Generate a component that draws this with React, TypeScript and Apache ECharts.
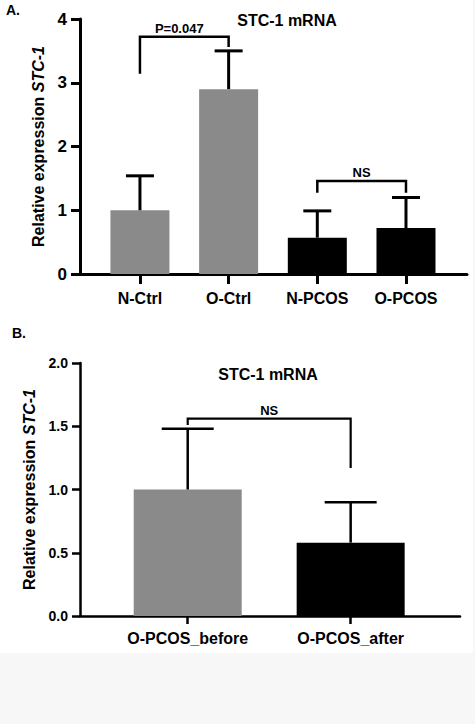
import React, { useEffect, useRef } from "react";
import * as echarts from "echarts";

const FONT = "'Liberation Sans', Arial, sans-serif";

// Panel A
const categoriesA = ["N-Ctrl", "O-Ctrl", "N-PCOS", "O-PCOS"];
const meansA = [1.0, 2.9, 0.57, 0.72];
const upperA = [1.54, 3.5, 0.99, 1.2];
const groupA = ["ctrl", "ctrl", "pcos", "pcos"];
const yTicksA = [0, 1, 2, 3, 4];
const bracketsA = [
  { from: 0, to: 1, top: 3.72, leftEnd: 3.14, rightEnd: 3.56, label: "P=0.047" },
  { from: 2, to: 3, top: 1.46, leftEnd: 1.275, rightEnd: 1.275, label: "NS" },
];

// Panel B
const categoriesB = ["O-PCOS_before", "O-PCOS_after"];
const meansB = [1.0, 0.58];
const upperB = [1.48, 0.9];
const groupB = ["ctrl", "pcos"];
const yTicksB = [0, 0.5, 1.0, 1.5, 2.0];
const bracketsB = [
  { from: 0, to: 1, top: 1.56, leftEnd: 1.51, rightEnd: 1.17, label: "NS" },
];

const titleText = "STC-1 mRNA";
const colorMap: Record<string, string> = { ctrl: "#8a8a8a", pcos: "#000000" };

function App() {
  const ref = useRef<HTMLDivElement>(null);

  useEffect(() => {
    if (!ref.current) return;
    const chart = echarts.init(ref.current, null, { renderer: "svg" });

    const yName = (gap: number) => ({
      name: "Relative expression {i|STC-1}",
      nameLocation: "middle" as const,
      nameGap: gap,
      nameTextStyle: {
        fontFamily: FONT,
        fontWeight: "bold",
        fontSize: 16,
        color: "#000",
        rich: {
          i: { fontFamily: FONT, fontWeight: "bold", fontStyle: "italic", fontSize: 16, color: "#000" },
        },
      },
    });

    const errRender = (capHalf: number, lw: number) => (params: any, api: any) => {
      const x = api.value(0);
      const p0 = api.coord([x, api.value(1)]);
      const p1 = api.coord([x, api.value(2)]);
      return {
        type: "group",
        children: [
          { type: "line", shape: { x1: p0[0], y1: p0[1], x2: p1[0], y2: p1[1] }, style: { stroke: "#000", lineWidth: lw } },
          { type: "line", shape: { x1: p1[0] - capHalf, y1: p1[1], x2: p1[0] + capHalf, y2: p1[1] }, style: { stroke: "#000", lineWidth: lw } },
        ],
      };
    };

    const bracketRender = (list: any[], lw: number, fs: number) => (params: any, api: any) => {
      const b = list[params.dataIndex];
      const a0 = api.coord([api.value(0), api.value(3)]);
      const a1 = api.coord([api.value(0), api.value(2)]);
      const c1 = api.coord([api.value(1), api.value(2)]);
      const c0 = api.coord([api.value(1), api.value(4)]);
      return {
        type: "group",
        children: [
          {
            type: "polyline",
            shape: { points: [a0, a1, c1, c0] },
            style: { stroke: "#000", lineWidth: lw, fill: "none" },
          },
          {
            type: "text",
            style: {
              text: b.label,
              x: (a1[0] + c1[0]) / 2 - (b.label.length > 3 ? 5 : 0),
              y: a1[1] - 2,
              align: "center",
              verticalAlign: "bottom",
              font: `bold ${fs}px ${FONT}`,
              fill: "#000",
            },
          },
        ],
      };
    };

    const option: any = {
      animation: false,
      title: [
        { text: titleText, left: 282, top: 7, textAlign: "center", textStyle: { fontFamily: FONT, fontWeight: "bold", fontSize: 16, color: "#000" } },
        { text: titleText, left: 263, top: 361, textAlign: "center", textStyle: { fontFamily: FONT, fontWeight: "bold", fontSize: 16, color: "#000" } },
      ],
      graphic: [
        { type: "text", left: 6, top: 3, style: { text: "A.", font: `bold 14px ${FONT}`, fill: "#000" } },
        { type: "text", left: 12, top: 326, style: { text: "B.", font: `bold 14px ${FONT}`, fill: "#000" } },
      ],
      grid: [
        { left: 80, top: 19, width: 387, height: 255 },
        { left: 80, top: 363, width: 380, height: 253 },
      ],
      xAxis: [
        {
          gridIndex: 0,
          type: "value",
          min: -0.676,
          max: 3.688,
          splitLine: { show: false },
          axisLine: { show: true, onZero: false, lineStyle: { color: "#000", width: 3 } },
          axisTick: { show: true, customValues: categoriesA.map((_, i) => i), length: 10, inside: false, lineStyle: { color: "#000", width: 3 } },
          axisLabel: {
            customValues: categoriesA.map((_, i) => i),
            formatter: (v: number) => categoriesA[Math.round(v)] ?? "",
            margin: 16,
            fontFamily: FONT,
            fontWeight: "bold",
            fontSize: 16,
            color: "#000",
          },
        },
        {
          gridIndex: 1,
          type: "value",
          min: -0.661,
          max: 1.671,
          splitLine: { show: false },
          axisLine: { show: true, onZero: false, lineStyle: { color: "#000", width: 2.5 } },
          axisTick: { show: true, customValues: categoriesB.map((_, i) => i), length: 8, lineStyle: { color: "#000", width: 2.5 } },
          axisLabel: {
            customValues: categoriesB.map((_, i) => i),
            formatter: (v: number) => categoriesB[Math.round(v)] ?? "",
            margin: 14,
            fontFamily: FONT,
            fontWeight: "bold",
            fontSize: 16,
            color: "#000",
          },
        },
      ],
      yAxis: [
        {
          gridIndex: 0,
          type: "value",
          min: yTicksA[0],
          max: yTicksA[yTicksA.length - 1],
          interval: 1,
          splitLine: { show: false },
          axisLine: { show: true, onZero: false, lineStyle: { color: "#000", width: 3 } },
          axisTick: { show: true, length: 9, lineStyle: { color: "#000", width: 3 } },
          axisLabel: { margin: 13, fontFamily: FONT, fontWeight: "bold", fontSize: 17, color: "#000" },
          ...yName(32),
        },
        {
          gridIndex: 1,
          type: "value",
          min: yTicksB[0],
          max: yTicksB[yTicksB.length - 1],
          interval: 0.5,
          splitLine: { show: false },
          axisLine: { show: true, onZero: false, lineStyle: { color: "#000", width: 2.5 } },
          axisTick: { show: true, length: 8, lineStyle: { color: "#000", width: 2.5 } },
          axisLabel: {
            margin: 12,
            fontFamily: FONT,
            fontWeight: "bold",
            fontSize: 14,
            color: "#000",
            formatter: (v: number) => v.toFixed(1),
          },
          ...yName(31),
        },
      ],
      series: [
        {
          type: "bar",
          xAxisIndex: 0,
          yAxisIndex: 0,
          barWidth: 59,
          data: meansA.map((v, i) => ({ value: [i, v], itemStyle: { color: colorMap[groupA[i]] } })),
          z: 2,
        },
        {
          type: "custom",
          xAxisIndex: 0,
          yAxisIndex: 0,
          data: meansA.map((v, i) => [i, v, upperA[i]]),
          encode: { x: 0, y: [1, 2] },
          renderItem: errRender(14, 3),
          z: 3,
        },
        {
          type: "custom",
          xAxisIndex: 0,
          yAxisIndex: 0,
          data: bracketsA.map((b) => [b.from, b.to, b.top, b.leftEnd, b.rightEnd]),
          encode: { x: [0, 1], y: [2, 3, 4] },
          renderItem: bracketRender(bracketsA, 2.5, 13),
          z: 3,
        },
        {
          type: "bar",
          xAxisIndex: 1,
          yAxisIndex: 1,
          barWidth: 108,
          data: meansB.map((v, i) => ({ value: [i, v], itemStyle: { color: colorMap[groupB[i]] } })),
          z: 2,
        },
        {
          type: "custom",
          xAxisIndex: 1,
          yAxisIndex: 1,
          data: meansB.map((v, i) => [i, v, upperB[i]]),
          encode: { x: 0, y: [1, 2] },
          renderItem: errRender(26, 2.5),
          z: 3,
        },
        {
          type: "custom",
          xAxisIndex: 1,
          yAxisIndex: 1,
          data: bracketsB.map((b) => [b.from, b.to, b.top, b.leftEnd, b.rightEnd]),
          encode: { x: [0, 1], y: [2, 3, 4] },
          renderItem: bracketRender(bracketsB, 2.2, 13),
          z: 3,
        },
      ],
    };

    chart.setOption(option);
    return () => chart.dispose();
  }, []);

  return (
    <div style={{ position: "absolute", left: 0, top: 0, width: 475, height: 724, background: "#f7f7f7" }}>
      <div ref={ref} style={{ position: "absolute", left: 0, top: 0, width: 473, height: 653, background: "#ffffff" }} />
    </div>
  );
}

export default App;
